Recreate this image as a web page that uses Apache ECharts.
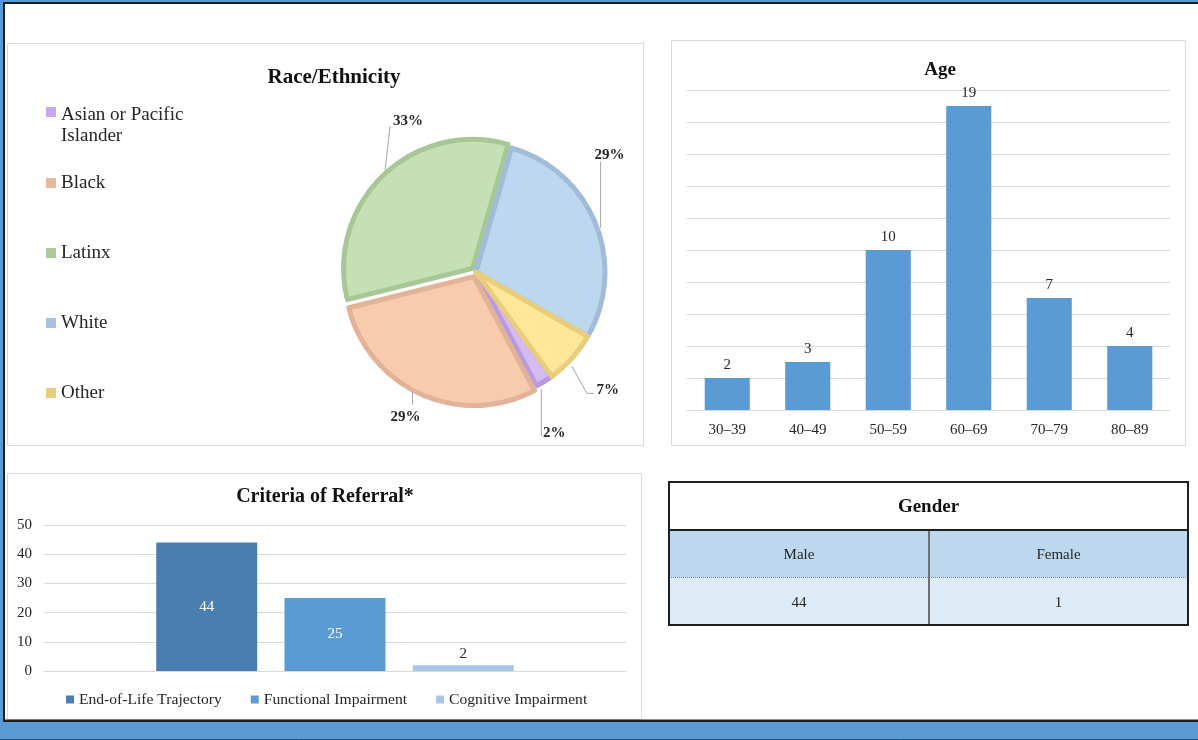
<!DOCTYPE html>
<html>
<head>
<meta charset="utf-8">
<script src="https://cdn.jsdelivr.net/npm/echarts@6/dist/echarts.min.js"></script>
<style>
  html, body { margin: 0; padding: 0; background: #ffffff; }
  #chart { width: 1198px; height: 740px; }
</style>
</head>
<body>
<div id="chart"></div>
<script>
// ---------------- data ----------------
const RACE_NAMES = ['Asian or Pacific Islander', 'Black', 'Latinx', 'White', 'Other'];
const RACE_COUNTS = [1, 13, 15, 13, 3];
const RACE_EXPLODED = ['Black', 'Latinx'];

const AGE_GROUPS = ['30–39', '40–49', '50–59', '60–69', '70–79', '80–89'];
const AGE_COUNTS = [2, 3, 10, 19, 7, 4];

const CRITERIA_NAMES = ['End-of-Life Trajectory', 'Functional Impairment', 'Cognitive Impairment'];
const CRITERIA_COUNTS = [44, 25, 2];

const GENDER_LABELS = ['Male', 'Female'];
const GENDER_COUNTS = [44, 1];

const TITLES = ['Race/Ethnicity', 'Age', 'Criteria of Referral*', 'Gender'];

// ---------------- styles ----------------
const SERIF = "'Liberation Serif', 'Times New Roman', serif";
const TXT = '#262626';
const RACE_FILL = ['#d4bcf2', '#f8cbad', '#c5e0b4', '#bdd7ee', '#ffe699'];
const RACE_BORDER = ['#b99ade', '#e2b398', '#a7c896', '#a1bcd9', '#e8cd7c'];
const RACE_LEGEND = ['#c8a8ec', '#e9b99d', '#adca9b', '#a9c3de', '#eacd7c'];
const RACE_LEGEND_CENTER_Y = [112, 182, 252, 322, 392];
const CRIT_COLORS = ['#4a7eb0', '#5b9bd5', '#a9c5e8'];
const GRID_LINE = '#d9d9d9';
const PIE_CENTER = [476, 272];
const PIE_RADIUS = 129;
const PIE_START = -54;

// pie label guide geometry, relative to ECharts' own edge point of each slice
// start: where the leader line begins, knee: bend, tail: horizontal run, lab: label centre from line end
const PIE_GUIDES = [
  { start: [-3, 8], knee: [-3, 55], tail: 0, lab: [13, -3.5] },        // Asian
  { start: [-11, 2], knee: [-11, 15], tail: 0, lab: [-7, 12] },        // Black
  { start: [-1.3, -9.2], knee: [3.7, -53.2], tail: 0, lab: [18, -4.5] },// Latinx
  { start: [5, 4], knee: [5, -62], tail: 0, lab: [9, -7] },            // White
  { start: [0, 8], knee: [15, 35], tail: 7, lab: [14, -3.5] }          // Other
];

const chart = echarts.init(document.getElementById('chart'), null, { renderer: 'canvas' });

// ---------- legends ----------
const legends = RACE_NAMES.map((name, i) => {
  const multi = i === 0;
  const base = { fontFamily: SERIF, fontSize: 19, color: TXT, lineHeight: 21 };
  return {
    orient: 'vertical',
    left: 46,
    top: multi ? RACE_LEGEND_CENTER_Y[i] - 34.5 : RACE_LEGEND_CENTER_Y[i] - 9.5,
    padding: 0,
    selectedMode: false,
    icon: 'rect',
    itemWidth: 10,
    itemHeight: 10,
    itemGap: 0,
    itemStyle: { borderWidth: 0 },
    data: [{ name: name, itemStyle: { color: RACE_LEGEND[i], borderWidth: 0 } }],
    formatter: multi ? function () { return '{e| }\n{a|Asian or Pacific}\n{a|Islander}'; } : '{name}',
    textStyle: Object.assign({}, base, {
      rich: {
        e: { fontFamily: SERIF, fontSize: 19, lineHeight: 27 },
        a: { fontFamily: SERIF, fontSize: 19, lineHeight: 21, color: TXT }
      }
    })
  };
});
legends.push({
  orient: 'horizontal',
  left: 66,
  top: 690.5,
  padding: 0,
  selectedMode: false,
  icon: 'rect',
  itemWidth: 8,
  itemHeight: 8,
  itemGap: 29,
  data: CRITERIA_NAMES.map((n, i) => ({ name: n, itemStyle: { color: CRIT_COLORS[i] } })),
  textStyle: { fontFamily: SERIF, fontSize: 15.6, color: TXT, lineHeight: 18 }
});

// ---------- graphics (frame, panels, titles, table) ----------
const g = [];
g.push({ type: 'rect', z: -20, silent: true, shape: { x: 0, y: 0, width: 1198, height: 740 }, style: { fill: '#5b9bd5' } });
g.push({ type: 'rect', z: -19, silent: true, shape: { x: 4, y: 3, width: 1200, height: 718 }, style: { fill: '#ffffff', stroke: '#1f1f1f', lineWidth: 2 } });
g.push({ type: 'line', z: -18, silent: true, shape: { x1: 0, y1: 739.5, x2: 1198, y2: 739.5 }, style: { stroke: '#2b4f73', lineWidth: 1 } });
// panels
g.push({ type: 'rect', z: -15, silent: true, shape: { x: 7.5, y: 43.5, width: 636, height: 402 }, style: { fill: '#ffffff', stroke: GRID_LINE, lineWidth: 1 } });
g.push({ type: 'rect', z: -15, silent: true, shape: { x: 671.5, y: 40.5, width: 514, height: 405 }, style: { fill: '#ffffff', stroke: GRID_LINE, lineWidth: 1 } });
g.push({ type: 'rect', z: -15, silent: true, shape: { x: 7.5, y: 473.5, width: 634, height: 246 }, style: { fill: '#ffffff', stroke: GRID_LINE, lineWidth: 1 } });
g.push({ type: 'line', z: -14, silent: true, shape: { x1: 4, y1: 720.5, x2: 1198, y2: 720.5 }, style: { stroke: '#1f1f1f', lineWidth: 2 } });

function titleText(text, x, y, size) {
  return {
    type: 'text', z: 20, silent: true,
    style: {
      text: text, x: x, y: y,
      textAlign: 'center', textVerticalAlign: 'middle', align: 'center', verticalAlign: 'middle',
      font: 'bold ' + size + 'px ' + SERIF, fill: '#111111'
    }
  };
}
g.push(titleText(TITLES[0], 334, 78, 21));
g.push(titleText(TITLES[1], 940, 70, 19));
g.push(titleText(TITLES[2], 325, 497, 20));

// Gender table
const T = { x: 669, y: 482, w: 519, h1: 48, h2: 47, h3: 48, col: 929 };
g.push({ type: 'rect', z: 10, silent: true, shape: { x: T.x, y: T.y + T.h1, width: T.w, height: T.h2 }, style: { fill: '#bdd7ee' } });
g.push({ type: 'rect', z: 10, silent: true, shape: { x: T.x, y: T.y + T.h1 + T.h2, width: T.w, height: T.h3 }, style: { fill: '#ddebf7' } });
g.push({ type: 'line', z: 11, silent: true, shape: { x1: T.x, y1: T.y + T.h1 + T.h2 + 0.5, x2: T.x + T.w, y2: T.y + T.h1 + T.h2 + 0.5 }, style: { stroke: '#808080', lineWidth: 1, lineDash: [1, 1] } });
g.push({ type: 'line', z: 11, silent: true, shape: { x1: T.col, y1: T.y + T.h1, x2: T.col, y2: T.y + T.h1 + T.h2 + T.h3 }, style: { stroke: '#6f6f6f', lineWidth: 2 } });
g.push({ type: 'line', z: 12, silent: true, shape: { x1: T.x, y1: T.y + T.h1, x2: T.x + T.w, y2: T.y + T.h1 }, style: { stroke: '#1f1f1f', lineWidth: 2 } });
g.push({ type: 'rect', z: 12, silent: true, shape: { x: T.x, y: T.y, width: T.w, height: T.h1 + T.h2 + T.h3 }, style: { fill: 'none', stroke: '#1f1f1f', lineWidth: 2 } });
g.push(titleText(TITLES[3], (T.x + T.x + T.w) / 2, T.y + T.h1 / 2 + 1, 19));
const colCenters = [(T.x + T.col) / 2, (T.col + T.x + T.w) / 2];
GENDER_LABELS.forEach((lab, i) => {
  g.push({
    type: 'text', z: 20, silent: true,
    style: { text: lab, x: colCenters[i], y: T.y + T.h1 + T.h2 / 2 + 2, textAlign: 'center', textVerticalAlign: 'middle', align: 'center', verticalAlign: 'middle', font: '15px ' + SERIF, fill: TXT }
  });
  g.push({
    type: 'text', z: 20, silent: true,
    style: { text: String(GENDER_COUNTS[i]), x: colCenters[i], y: T.y + T.h1 + T.h2 + T.h3 / 2 + 2, textAlign: 'center', textVerticalAlign: 'middle', align: 'center', verticalAlign: 'middle', font: '15px ' + SERIF, fill: TXT }
  });
});

// ---------- option ----------
const pieData = RACE_NAMES.map((n, i) => ({ name: n, value: RACE_COUNTS[i] }));

const option = {
  animation: false,
  backgroundColor: 'transparent',
  legend: legends,
  graphic: { elements: g },
  grid: [
    { left: 687, right: 28, top: 90, bottom: 330, containLabel: false },
    { left: 44, right: 572, top: 525, bottom: 69, containLabel: false }
  ],
  xAxis: [
    {
      type: 'category', gridIndex: 0, data: AGE_GROUPS,
      axisLine: { show: true, lineStyle: { color: GRID_LINE, width: 1 } },
      axisTick: { show: false },
      axisLabel: { fontFamily: SERIF, fontSize: 15, color: TXT, margin: 13 }
    },
    {
      type: 'category', gridIndex: 1, data: ['Criteria'],
      axisLine: { show: true, lineStyle: { color: GRID_LINE, width: 1 } },
      axisTick: { show: false },
      axisLabel: { show: false }
    }
  ],
  yAxis: [
    {
      type: 'value', gridIndex: 0, min: 0, max: 20, interval: 2,
      axisLine: { show: false }, axisTick: { show: false }, axisLabel: { show: false },
      splitLine: { show: true, lineStyle: { color: GRID_LINE, width: 1 } }
    },
    {
      type: 'value', gridIndex: 1, min: 0, max: 50, interval: 10,
      axisLine: { show: false }, axisTick: { show: false },
      axisLabel: { fontFamily: SERIF, fontSize: 15, color: TXT, margin: 12 },
      splitLine: { show: true, lineStyle: { color: GRID_LINE, width: 1 } }
    }
  ],
  series: [
    // visible pie with exploded slices
    {
      type: 'pie',
      name: 'Race/Ethnicity',
      center: PIE_CENTER,
      radius: PIE_RADIUS,
      startAngle: PIE_START,
      clockwise: true,
      selectedMode: 'multiple',
      selectedOffset: 5,
      emphasis: { disabled: true },
      silent: true,
      data: pieData.map((d, i) => ({
        name: d.name,
        value: d.value,
        selected: RACE_EXPLODED.indexOf(d.name) >= 0,
        itemStyle: { color: RACE_FILL[i], borderColor: RACE_BORDER[i], borderWidth: 5 },
        select: { itemStyle: { color: RACE_FILL[i], borderColor: RACE_BORDER[i], borderWidth: 5 } }
      })),
      label: { show: false },
      labelLine: { show: false }
    },
    // same pie, transparent, carrying the percentage labels
    {
      type: 'pie',
      name: 'Race/Ethnicity labels',
      center: PIE_CENTER,
      radius: PIE_RADIUS,
      startAngle: PIE_START,
      clockwise: true,
      z: 3,
      silent: true,
      avoidLabelOverlap: false,
      percentPrecision: 0,
      emphasis: { disabled: true },
      data: pieData.map((d) => ({
        name: d.name, value: d.value,
        itemStyle: { color: 'rgba(0,0,0,0)', borderWidth: 0 }
      })),
      label: {
        show: true, position: 'outside', formatter: '{d}%',
        fontFamily: SERIF, fontWeight: 'bold', fontSize: 15, color: TXT
      },
      labelLine: { show: true, length: 10, length2: 5, lineStyle: { color: '#a6a6a6', width: 1 } },
      labelLayout: function (params) {
        const pts = params.labelLinePoints;
        if (!pts) return {};
        const gd = PIE_GUIDES[params.dataIndex];
        const p0 = pts[0];
        const a = [p0[0] + gd.start[0], p0[1] + gd.start[1]];
        const p1 = [p0[0] + gd.knee[0], p0[1] + gd.knee[1]];
        const p2 = [p1[0] + gd.tail, p1[1]];
        return {
          x: p2[0] + gd.lab[0], y: p2[1] + gd.lab[1],
          align: 'center', verticalAlign: 'middle',
          labelLinePoints: [a, p1, p2]
        };
      }
    },
    {
      type: 'bar', name: 'Age', xAxisIndex: 0, yAxisIndex: 0,
      data: AGE_COUNTS,
      barCategoryGap: '44%',
      itemStyle: { color: '#5b9bd5' },
      emphasis: { disabled: true },
      label: { show: true, position: 'top', distance: 5, fontFamily: SERIF, fontSize: 15, color: TXT }
    }
  ].concat(CRITERIA_NAMES.map((n, i) => ({
    type: 'bar', name: n, xAxisIndex: 1, yAxisIndex: 1,
    data: [CRITERIA_COUNTS[i]],
    barWidth: 101,
    barGap: '27%',
    itemStyle: { color: CRIT_COLORS[i] },
    emphasis: { disabled: true },
    label: {
      show: true,
      position: CRITERIA_COUNTS[i] > 10 ? 'inside' : 'top',
      distance: 4,
      fontFamily: SERIF, fontSize: 15,
      color: CRITERIA_COUNTS[i] > 10 ? '#ffffff' : TXT
    }
  })))
};

chart.setOption(option);
</script>
</body>
</html>
